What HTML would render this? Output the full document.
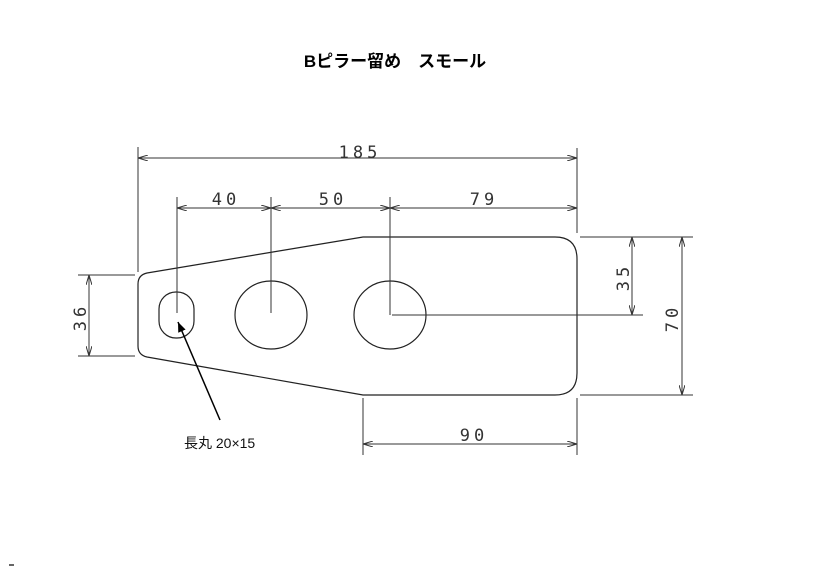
<!DOCTYPE html>
<html><head><meta charset="utf-8"><style>
html,body{margin:0;padding:0;background:#fff;}
svg{display:block;}
.d{font-family:"DejaVu Sans Mono","Liberation Mono",monospace;font-size:17px;fill:#333;letter-spacing:4px;}
</style></head><body>
<svg width="825" height="583" viewBox="0 0 825 583" xmlns="http://www.w3.org/2000/svg">
<defs>
<marker id="a" viewBox="0 0 10 6" refX="10" refY="3" markerWidth="10" markerHeight="6" orient="auto-start-reverse" markerUnits="userSpaceOnUse">
<path d="M0,0 L10,3 L0,6" fill="none" stroke="#333" stroke-width="1"/></marker>
<marker id="b" viewBox="0 0 10 8" refX="10" refY="4" markerWidth="10" markerHeight="8" orient="auto" markerUnits="userSpaceOnUse">
<path d="M0,0 L10,4 L0,8 Z" fill="#000"/></marker>
</defs>
<text x="395" y="67" text-anchor="middle" font-family="'Liberation Sans','Noto Sans CJK JP',sans-serif" font-weight="bold" font-size="17">Bピラー留め　スモール</text>
<g stroke="#222" stroke-width="1.2" fill="none">
<path d="M363,237 L555,237 Q577,237 577,259 L577,373 Q577,395 555,395 L363,395 L147,357 Q138,355 138,346 L138,284 Q138,275 147,273 Z"/>
<rect x="159" y="292" width="35" height="46" rx="17"/>
<ellipse cx="271" cy="315" rx="36" ry="34"/>
<ellipse cx="390" cy="315" rx="36" ry="34"/>
</g>
<g stroke="#333" stroke-width="1" fill="none">
<line x1="138" y1="147" x2="138" y2="272"/>
<line x1="577" y1="148" x2="577" y2="233"/>
<line x1="177" y1="197" x2="177" y2="313"/>
<line x1="271" y1="197" x2="271" y2="313"/>
<line x1="390" y1="197" x2="390" y2="315"/>
<line x1="392" y1="315" x2="643" y2="315"/>
<line x1="580" y1="237" x2="693" y2="237"/>
<line x1="580" y1="395" x2="693" y2="395"/>
<line x1="78" y1="275" x2="135" y2="275"/>
<line x1="78" y1="356" x2="135" y2="356"/>
<line x1="363" y1="398" x2="363" y2="455"/>
<line x1="577" y1="398" x2="577" y2="455"/>
<line x1="138" y1="158" x2="577" y2="158" marker-start="url(#a)" marker-end="url(#a)"/>
<line x1="177" y1="208" x2="271" y2="208" marker-start="url(#a)" marker-end="url(#a)"/>
<line x1="271" y1="208" x2="390" y2="208" marker-start="url(#a)" marker-end="url(#a)"/>
<line x1="390" y1="208" x2="577" y2="208" marker-start="url(#a)" marker-end="url(#a)"/>
<line x1="632" y1="237" x2="632" y2="315" marker-start="url(#a)" marker-end="url(#a)"/>
<line x1="682" y1="237" x2="682" y2="395" marker-start="url(#a)" marker-end="url(#a)"/>
<line x1="89" y1="275" x2="89" y2="356" marker-start="url(#a)" marker-end="url(#a)"/>
<line x1="363" y1="444" x2="577" y2="444" marker-start="url(#a)" marker-end="url(#a)"/>
</g>
<line x1="220" y1="420" x2="178" y2="322" stroke="#000" stroke-width="1.5" marker-end="url(#b)"/>
<text class="d" x="360" y="158" text-anchor="middle">185</text>
<text class="d" x="226" y="205" text-anchor="middle">40</text>
<text class="d" x="333" y="205" text-anchor="middle">50</text>
<text class="d" x="484" y="205" text-anchor="middle">79</text>
<text class="d" x="474" y="441" text-anchor="middle">90</text>
<text class="d" transform="translate(629,277) rotate(-90)" text-anchor="middle">35</text>
<text class="d" transform="translate(678,318) rotate(-90)" text-anchor="middle">70</text>
<text class="d" transform="translate(86,317) rotate(-90)" text-anchor="middle">36</text>
<text x="184" y="448" font-family="'Liberation Sans','Noto Sans CJK JP',sans-serif" font-size="14" fill="#111">長丸 20×15</text>
<line x1="9" y1="565" x2="14" y2="565" stroke="#000" stroke-width="1.2"/>
</svg>
</body></html>
